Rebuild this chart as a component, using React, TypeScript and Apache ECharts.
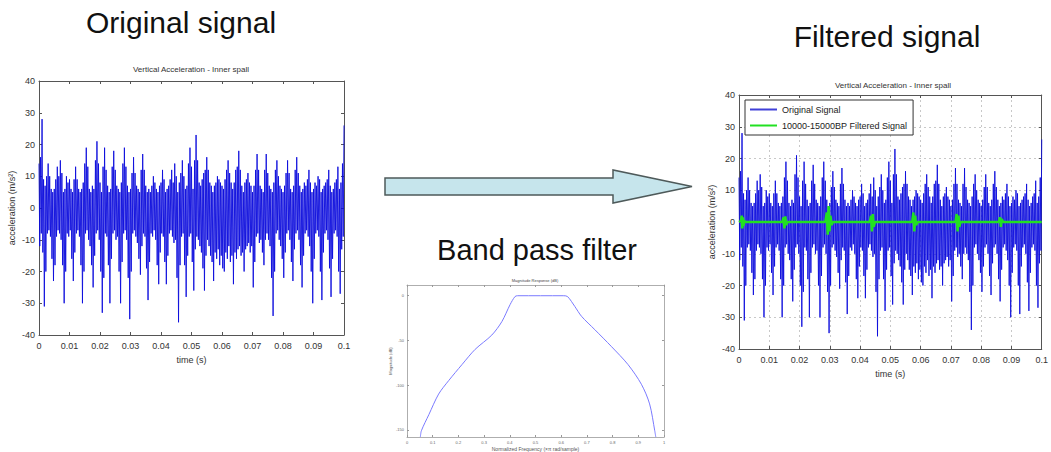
import React, { useEffect, useRef } from "react";
import * as echarts from "echarts";

// Signal read per 0.0005 s bin: upper and lower swing (m/s^2), from 0 to 0.1 s
const binStep = 0.0005;
const signalHigh = [
  14, 16, 28, 9, 7, 10, 14, 10, 6, 5,
  6, 9, 13, 10, 15, 11, 5, 6, 10, 8,
  9, 6, 5, 9, 13, 9, 6, 5, 6, 8,
  14, 19, 13, 6, 5, 7, 6, 15, 21, 14,
  8, 5, 13, 19, 12, 7, 5, 6, 13, 18,
  12, 7, 6, 5, 8, 14, 19, 13, 7, 5,
  6, 11, 16, 11, 7, 6, 5, 12, 17, 12,
  7, 5, 6, 5, 7, 10, 8, 6, 5, 7,
  8, 12, 9, 5, 6, 7, 9, 12, 8, 14,
  10, 5, 8, 11, 15, 10, 6, 7, 14, 19,
  13, 6, 15, 23, 15, 8, 7, 9, 11, 12,
  16, 12, 8, 7, 5, 7, 8, 10, 9, 8,
  7, 6, 9, 12, 15, 11, 8, 6, 8, 12,
  13, 18, 12, 7, 5, 8, 9, 11, 8, 7,
  5, 7, 12, 17, 12, 7, 6, 5, 12, 17,
  11, 7, 6, 5, 8, 12, 15, 10, 7, 6,
  5, 7, 11, 15, 11, 6, 5, 7, 12, 16,
  11, 7, 5, 6, 8, 7, 9, 12, 8, 5,
  6, 8, 7, 10, 9, 5, 6, 7, 8, 9,
  12, 7, 5, 6, 8, 9, 13, 6, 8, 14,
];
const signalLow = [
  -12, -8, -14, -31, -20, -8, -7, -9, -16, -23,
  -18, -9, -7, -8, -10, -18, -30, -20, -8, -9,
  -7, -16, -23, -14, -8, -7, -9, -18, -30, -20,
  -8, -7, -10, -12, -18, -25, -15, -8, -7, -10,
  -20, -33, -22, -8, -9, -18, -30, -16, -8, -7,
  -10, -9, -20, -30, -17, -8, -7, -10, -22, -35,
  -20, -8, -7, -9, -11, -16, -21, -12, -8, -9,
  -19, -29, -17, -8, -9, -7, -10, -18, -24, -14,
  -8, -9, -17, -24, -15, -8, -7, -9, -11, -10,
  -22, -36, -18, -9, -8, -18, -28, -15, -9, -8,
  -17, -26, -13, -9, -10, -12, -14, -19, -26, -15,
  -10, -12, -15, -17, -23, -14, -16, -13, -18, -15,
  -19, -20, -14, -16, -12, -17, -15, -24, -14, -16,
  -13, -12, -15, -14, -20, -13, -12, -11, -14, -12,
  -25, -17, -9, -8, -11, -10, -14, -18, -10, -8,
  -10, -12, -22, -34, -20, -8, -7, -10, -12, -16,
  -22, -14, -8, -7, -10, -17, -23, -13, -8, -7,
  -10, -18, -25, -15, -8, -7, -9, -12, -20, -30,
  -16, -8, -7, -9, -20, -29, -14, -8, -7, -10,
  -19, -28, -16, -8, -7, -9, -20, -27, -13, -9,
];
const signalEndValue = 26;

// Band-pass filtered signal: times (s) and values (m/s^2)
const filteredTimes = [
  0, 0.0006, 0.0009, 0.0011, 0.0013, 0.0015, 0.0017, 0.002,
  0.0143, 0.0147, 0.015, 0.0153, 0.0156, 0.016,
  0.0285, 0.029, 0.0293, 0.0296, 0.0299, 0.0302, 0.0306, 0.031,
  0.0432, 0.0436, 0.0439, 0.0442, 0.0445, 0.0449,
  0.0572, 0.0576, 0.0579, 0.0582, 0.0585, 0.059,
  0.0715, 0.0719, 0.0722, 0.0725, 0.0728, 0.0732,
  0.0858, 0.0862, 0.0865, 0.0868, 0.0872,
  0.1,
];
const filteredValues = [
  0, 0.3, 2, -2, 1.5, -1.2, 0.5, 0,
  0, 1.5, -2, 1.8, -1, 0,
  0, 3, -4, 5, -3, 2, -1, 0,
  0, 2, -3, 2.5, -1.5, 0,
  0, 3, -3, 2, -1, 0,
  0, 2.5, -3, 2, -1.5, 0,
  0, 1.5, -1.5, 1, 0,
  0,
];

// Band-pass filter magnitude response
const filterFreq = [
  0.052, 0.056, 0.085, 0.123, 0.162, 0.214, 0.265, 0.33, 0.369, 0.401, 0.42, 0.43,
  0.61, 0.625, 0.653, 0.679, 0.731, 0.796, 0.86, 0.912, 0.944, 0.964, 0.968,
];
const filterDb = [
  -158, -151, -133, -110, -95, -77, -60, -44, -29, -10, -1, 0,
  0, -1, -12, -23, -38, -57, -77, -99, -121, -151, -158,
];

const dbTicks = [0, -50, -100, -150];

const FONT = "'Liberation Sans', Arial, sans-serif";

export default function App() {
  const ref = useRef<HTMLDivElement>(null);
  useEffect(() => {
    if (!ref.current) return;
    const chart = echarts.init(ref.current, null, { renderer: "svg" });
    const signalData: number[][] = [];
    signalHigh.forEach((h, i) => {
      signalData.push([i * binStep, h]);
      signalData.push([i * binStep + binStep / 2, signalLow[i]]);
    });
    signalData.push([signalHigh.length * binStep, signalEndValue]);
    const filteredData = filteredTimes.map((t, i) => [t, filteredValues[i]]);
    const filterData = filterFreq.map((f, i) => [f, filterDb[i]]);

    const axisLine = { show: true, onZero: false, lineStyle: { color: "#555", width: 1 } };
    const tickIn = { show: true, inside: true, length: 3, lineStyle: { color: "#555" } };
    const lbl = { fontSize: 9, color: "#333", fontFamily: FONT };
    const timeFmt = (v: number) => String(Math.round(v * 100) / 100);

    const sigX = (grid: number, split: boolean) => [
      {
        type: "value", gridIndex: grid, position: "bottom", min: 0, max: 0.1, interval: 0.01,
        axisLine, axisTick: tickIn, axisLabel: { ...lbl, margin: 6, formatter: timeFmt },
        splitLine: { show: split, lineStyle: { color: "#c8c8c8", type: [2, 3] } },
        name: "time (s)", nameLocation: "middle", nameGap: 20,
        nameTextStyle: { fontSize: 9, color: "#333", fontFamily: FONT },
      },
      {
        type: "value", gridIndex: grid, position: "top", min: 0, max: 0.1, interval: 0.01,
        axisLine, axisTick: tickIn, axisLabel: { show: false }, splitLine: { show: false },
      },
    ];
    const sigY = (grid: number, split: boolean) => [
      {
        type: "value", gridIndex: grid, position: "left", min: -40, max: 40, interval: 10,
        axisLine, axisTick: tickIn, axisLabel: { ...lbl, margin: 4 },
        splitLine: { show: split, lineStyle: { color: "#c8c8c8", type: [2, 3] } },
        name: "acceleration (m/s²)", nameLocation: "middle", nameGap: 23, nameRotate: 90,
        nameTextStyle: { fontSize: 9, color: "#333", fontFamily: FONT },
      },
      {
        type: "value", gridIndex: grid, position: "right", min: -40, max: 40, interval: 10,
        axisLine, axisTick: tickIn, axisLabel: { show: false }, splitLine: { show: false },
      },
    ];

    const tinyLbl = { fontSize: 4, color: "#666", fontFamily: FONT };
    const fLine = { show: true, onZero: false, lineStyle: { color: "#999", width: 0.8 } };
    const fTick = { show: true, inside: true, length: 2, lineStyle: { color: "#999" } };

    chart.setOption({
      animation: false,
      backgroundColor: "#fff",
      grid: [
        { left: 39, top: 81, width: 305, height: 254 },
        { left: 739, top: 95, width: 307, height: 254 },
        { left: 407, top: 285, width: 257, height: 153 },
      ],
      xAxis: [
        ...sigX(0, false),
        ...sigX(1, true),
        {
          type: "value", gridIndex: 2, position: "bottom", min: 0, max: 1, interval: 0.1,
          axisLine: fLine, axisTick: fTick, axisLabel: { ...tinyLbl, margin: 3 },
          splitLine: { show: false },
          name: "Normalized Frequency (×π rad/sample)", nameLocation: "middle", nameGap: 9,
          nameTextStyle: { fontSize: 5, color: "#555", fontFamily: FONT },
        },
        {
          type: "value", gridIndex: 2, position: "top", min: 0, max: 1, interval: 0.1,
          axisLine: fLine, axisTick: fTick, axisLabel: { show: false }, splitLine: { show: false },
        },
      ],
      yAxis: [
        ...sigY(0, false),
        ...sigY(1, true),
        {
          type: "value", gridIndex: 2, position: "left", min: -158, max: 12,
          axisLine: fLine,
          axisTick: { ...fTick, customValues: dbTicks },
          axisLabel: { ...tinyLbl, margin: 3, customValues: dbTicks },
          splitLine: { show: false },
          name: "Magnitude (dB)", nameLocation: "middle", nameGap: 10, nameRotate: 90,
          nameTextStyle: { fontSize: 4, color: "#555", fontFamily: FONT },
        },
        {
          type: "value", gridIndex: 2, position: "right", min: -158, max: 12,
          axisLine: fLine, axisTick: { ...fTick, customValues: dbTicks },
          axisLabel: { show: false }, splitLine: { show: false },
        },
      ],
      legend: {
        data: [
          { name: "Original Signal", icon: "rect" },
          { name: "10000-15000BP Filtered Signal", icon: "rect" },
        ],
        orient: "vertical",
        left: 745,
        top: 100,
        itemWidth: 27,
        itemHeight: 2,
        itemGap: 7,
        padding: [5, 6, 5, 5],
        borderColor: "#333",
        borderWidth: 1,
        borderRadius: 0,
        backgroundColor: "#fff",
        textStyle: { fontSize: 9, color: "#222", fontFamily: FONT },
      },
      series: [
        {
          type: "line", name: "Left Original Signal", xAxisIndex: 0, yAxisIndex: 0,
          data: signalData, symbol: "none",
          lineStyle: { color: "#0c0cdc", width: 0.9 }, itemStyle: { color: "#0c0cdc" },
        },
        {
          type: "line", name: "Original Signal", xAxisIndex: 2, yAxisIndex: 2,
          data: signalData, symbol: "none",
          lineStyle: { color: "#0c0cdc", width: 0.9 }, itemStyle: { color: "#4040d8" },
        },
        {
          type: "line", name: "10000-15000BP Filtered Signal", xAxisIndex: 2, yAxisIndex: 2,
          data: filteredData, symbol: "none",
          lineStyle: { color: "#22e022", width: 2.5 }, itemStyle: { color: "#22e022" },
        },
        {
          type: "line", name: "Magnitude Response", xAxisIndex: 4, yAxisIndex: 4,
          data: filterData, symbol: "none", smooth: 0.3,
          lineStyle: { color: "#7a7aff", width: 1 }, itemStyle: { color: "#7a7aff" },
        },
      ],
      graphic: [
        {
          type: "text", x: 181, y: 37,
          style: { text: "Original signal", font: `30px ${FONT}`, fill: "#111", textAlign: "center", textVerticalAlign: "bottom" },
        },
        {
          type: "text", x: 887, y: 51,
          style: { text: "Filtered signal", font: `30px ${FONT}`, fill: "#111", textAlign: "center", textVerticalAlign: "bottom" },
        },
        {
          type: "text", x: 537, y: 264,
          style: { text: "Band pass filter", font: `29px ${FONT}`, fill: "#111", textAlign: "center", textVerticalAlign: "bottom" },
        },
        {
          type: "text", x: 191, y: 69,
          style: { text: "Vertical Acceleration - Inner spall", font: `8px ${FONT}`, fill: "#333", textAlign: "center", textVerticalAlign: "middle" },
        },
        {
          type: "text", x: 893, y: 85,
          style: { text: "Vertical Acceleration - Inner spall", font: `8px ${FONT}`, fill: "#333", textAlign: "center", textVerticalAlign: "middle" },
        },
        {
          type: "text", x: 535, y: 280,
          style: { text: "Magnitude Response (dB)", font: `4px ${FONT}`, fill: "#444", textAlign: "center", textVerticalAlign: "middle" },
        },
        {
          type: "polygon",
          shape: { points: [[385, 178], [613, 178], [613, 170], [692, 186.5], [613, 203], [613, 195], [385, 195]] },
          style: { fill: "#c6e5ec", stroke: "#4e5a5a", lineWidth: 1.5 },
        },
      ],
    });
    return () => chart.dispose();
  }, []);
  return <div ref={ref} style={{ position: "fixed", left: 0, top: 0, width: 1051, height: 452 }} />;
}
